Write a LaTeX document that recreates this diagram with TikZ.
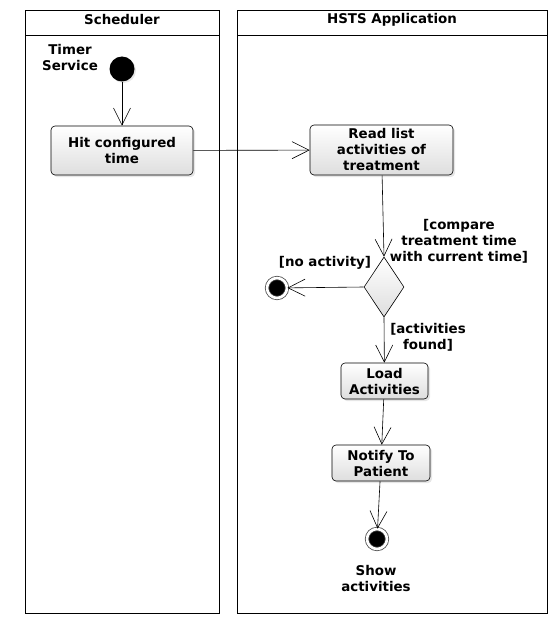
\documentclass[tikz,border=0pt]{standalone}
\usepackage{fontspec}
\setmainfont{DejaVu Sans}
\usetikzlibrary{arrows.meta,shapes.geometric,shadows}

\begin{document}
\begin{tikzpicture}[x=1pt, y=-1pt,
  every node/.style = {font=\bfseries\fontsize{13.4}{16}\selectfont,
    align=center, inner sep=0pt},
  action/.style = {draw, rounded corners=4pt, line width=0.6pt,
    top color=white, bottom color=black!13,
    drop shadow={opacity=0.2, shadow xshift=2pt, shadow yshift=-2pt}},
  initial/.style = {circle, fill=black, minimum size=25pt,
    drop shadow={opacity=0.2, shadow xshift=1.5pt, shadow yshift=-1.5pt}},
  final/.style = {circle, draw=black!70, line width=0.8pt, fill=black,
    minimum size=20pt, double=white, double distance=2.6pt},
  decision/.style = {diamond, draw, line width=0.6pt, minimum width=40pt,
    minimum height=60pt, top color=white, bottom color=black!13},
  flow/.style = {-{Straight Barb[length=17pt,width=17pt]}, line width=0.6pt}
  ]
  \useasboundingbox (0,0) rectangle (558,623);
  % swimlanes
  \draw[line width=0.8pt] (25.5,10) rectangle (219,613);
  \draw[line width=0.8pt] (25.5,35) -- (219,35);
  \draw[line width=0.8pt] (237,10) rectangle (547,613);
  \draw[line width=0.8pt] (237,35) -- (547,35);
  \node (sched) at (122,20) {Scheduler};
  \node (hsts) at (392,20) {HSTS Application};

  % nodes
  \node[initial] (start) at (122,69) {};
  \node (timer) at (70,58) {Timer\\Service};
  \node[action, minimum width=142pt, minimum height=49pt] (hit)
    at (122,150.5) {Hit configured\\time};
  \node[action, minimum width=143pt, minimum height=50pt] (read)
    at (381.5,150) {Read list\\activities of\\treatment};
  \node[decision] (dec) at (384,287) {};
  \node (compare) at (459,241) {[compare\\treatment time\\with current time]};
  \node[final] (none) at (277,288) {};
  \node (noact) at (325,263) {[no activity]};
  \node (found) at (428,337) {[activities\\found]};
  \node[action, minimum width=87pt, minimum height=36pt] (load)
    at (384.5,381) {Load\\Activities};
  \node[action, minimum width=98pt, minimum height=36pt] (notify)
    at (381,463) {Notify To\\Patient};
  \node[final] (done) at (377,539) {};
  \node (show) at (376,578) {Show\\activities};

  % flows
  \draw[flow] (start) -- (hit);
  \draw[flow] (hit) -- (read);
  \draw[flow] (read) -- (dec.north);
  \draw[flow] (dec.west) -- (none);
  \draw[flow] (dec.south) -- (load);
  \draw[flow] (load) -- (notify);
  \draw[flow] (notify) -- (done);
\end{tikzpicture}
\end{document}
